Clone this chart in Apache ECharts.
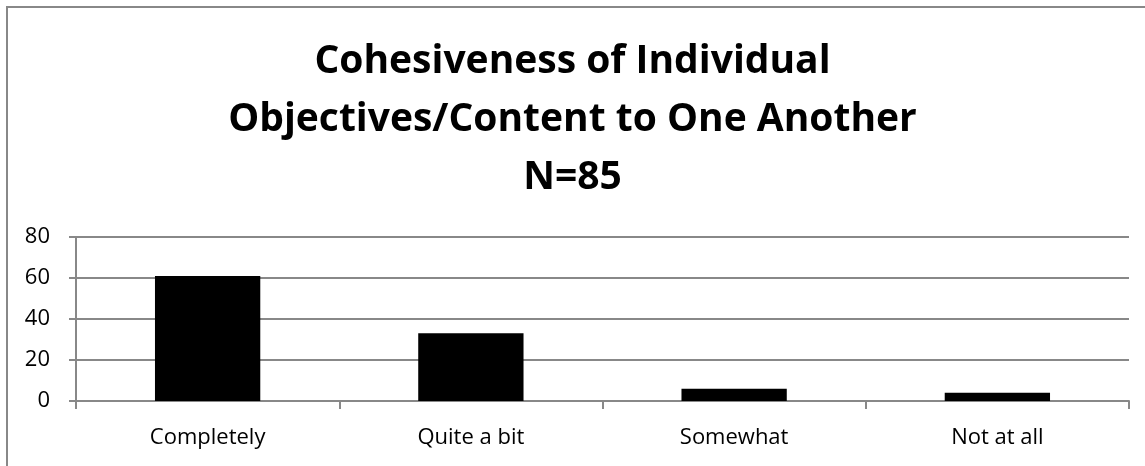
<!DOCTYPE html>
<html>
<head>
<meta charset="utf-8">
<script src="https://cdn.jsdelivr.net/npm/echarts@6/dist/echarts.min.js"></script>
<style>
  html, body { margin: 0; padding: 0; background: #fff; }
  #main { width: 1145px; height: 466px; }
</style>
</head>
<body>
<div id="main"></div>
<script>
// data
const categories = ['Completely', 'Quite a bit', 'Somewhat', 'Not at all']
const counts = [61, 33, 6, 4]
const yTicks = { min: 0, max: 80, interval: 20 }

const font = '"Open Sans", Lato, sans-serif'
const grey = '#888888'

const chart = echarts.init(document.getElementById('main'))
chart.setOption({
  animation: false,
  title: {
    text: 'Cohesiveness of Individual\nObjectives/Content to One Another\nN=85',
    left: 'center',
    top: 28,
    textStyle: { fontFamily: font, fontWeight: 'bold', fontSize: 39, lineHeight: 58, color: '#000' },
  },
  graphic: [
    {
      type: 'rect',
      shape: { x: 7, y: 7, width: 1200, height: 520 },
      style: { fill: 'none', stroke: grey, lineWidth: 2 },
      silent: true,
    },
  ],
  grid: { left: 76, right: 16, top: 237, bottom: 65 },
  xAxis: {
    type: 'category',
    data: categories,
    axisLine: { lineStyle: { color: grey, width: 2 } },
    axisTick: { show: true, length: 8, lineStyle: { color: grey, width: 2 } },
    axisLabel: { color: '#000', fontFamily: font, fontSize: 22, margin: 26 },
  },
  yAxis: {
    type: 'value',
    min: yTicks.min,
    max: yTicks.max,
    interval: yTicks.interval,
    axisLine: { show: true, lineStyle: { color: grey, width: 2 } },
    axisTick: { show: true, length: 7, lineStyle: { color: grey, width: 2 } },
    splitLine: { lineStyle: { color: grey, width: 2 } },
    axisLabel: { color: '#000', fontFamily: font, fontSize: 22, margin: 26 },
  },
  series: [
    {
      type: 'bar',
      data: counts,
      barWidth: '40%',
      itemStyle: { color: '#000' },
    },
  ],
})
</script>
</body>
</html>
